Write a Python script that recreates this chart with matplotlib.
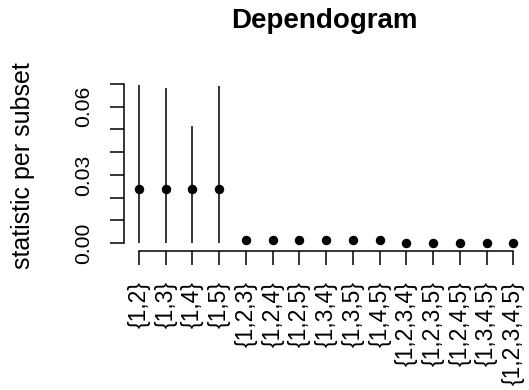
import matplotlib
matplotlib.use("Agg")
import matplotlib.pyplot as plt
import numpy as np

plt.rcParams['font.family'] = ['Liberation Sans', 'DejaVu Sans']

subsets = ["{1,2}", "{1,3}", "{1,4}", "{1,5}", "{1,2,3}", "{1,2,4}", "{1,2,5}",
           "{1,3,4}", "{1,3,5}", "{1,4,5}", "{1,2,3,4}", "{1,2,3,5}", "{1,2,4,5}",
           "{1,3,4,5}", "{1,2,3,4,5}"]
statistic = [0.0238, 0.0238, 0.0238, 0.0238, 0.0013, 0.0013, 0.0013, 0.0013,
             0.0013, 0.0013, 0.0, 0.0, 0.0, 0.0, 0.0]
critical = [0.0696, 0.0682, 0.0517, 0.0690]
ytick_vals = [0.00, 0.01, 0.02, 0.03, 0.04, 0.05, 0.06, 0.07]
ytick_labels = ["0.00", "", "", "0.03", "", "", "0.06", ""]

W, H = 529, 390
fig = plt.figure(figsize=(W/100, H/100), dpi=100)
l, r, b, t = 124, 528.3, 250.7, 78.6
ax = fig.add_axes([l/W, 1-b/H, (r-l)/W, (b-t)/H])

x = np.arange(1, len(subsets)+1)
lw = 1.1
ax.vlines(x[:len(critical)], 0, critical, color='black', linewidth=lw)
ax.plot(x, statistic, 'o', color='black', markersize=5.8)

ax.set_xlim(0.44, 15.56)
ax.set_ylim(-0.00339, 0.0724)

for s in ['top', 'right']:
    ax.spines[s].set_visible(False)
ax.spines['left'].set_bounds(0, 0.07)
ax.spines['bottom'].set_bounds(1, 15)
for s in ['left', 'bottom']:
    ax.spines[s].set_linewidth(lw)

ax.set_yticks(ytick_vals)
ax.set_yticklabels(ytick_labels, rotation=90, va='center')
ax.set_xticks(x)
ax.set_xticklabels(subsets, rotation=90)
ax.tick_params(axis='both', length=10, width=lw, pad=12)
ax.tick_params(axis='y', labelsize=15.2)
ax.tick_params(axis='x', labelsize=16.5)

fig.text(23/W, 1-166/H, "statistic per subset", rotation=90, ha='center',
         va='center', fontsize=18)
fig.text((l + r)/2/W - 2/W, 1-28/H, "Dependogram", ha='center', va='baseline',
         fontsize=20, fontweight='bold')

fig.savefig("out.png", dpi=100)
